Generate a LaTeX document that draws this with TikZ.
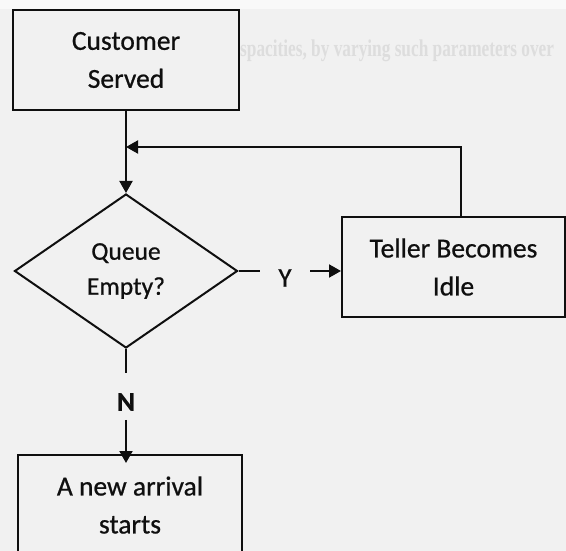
\documentclass[tikz,border=0pt]{standalone}
\usepackage{fontspec}
\setmainfont{Carlito}
\newfontfamily\inkfont{Carlito}[FakeBold=0.7]
\newfontfamily\ghostfont{Liberation Serif}
\usetikzlibrary{shapes.geometric,arrows.meta}
\definecolor{paper}{RGB}{241,241,241}
\definecolor{ink}{RGB}{15,15,15}
\definecolor{ghost}{RGB}{221,221,221}
\begin{document}
\begin{tikzpicture}[x=1pt,y=-1pt,
  box/.style={draw=ink, line width=2pt, minimum width=224pt, minimum height=100pt,
    inner sep=0pt, align=center, text=ink, font=\inkfont\fontsize{27.5}{38}\selectfont},
  decision/.style={diamond, draw=ink, line width=2pt, minimum width=223pt,
    minimum height=154pt, inner sep=0pt, align=center, text=ink,
    font=\inkfont\fontsize{25.5}{35}\selectfont},
  link/.style={draw=ink, line width=2pt},
  flow/.style={link, -{Triangle[width=13pt,length=12pt]}},
  tag/.style={inner sep=0pt, text=ink, font=\inkfont\fontsize{27}{30}\selectfont}]
\useasboundingbox (0,0) rectangle (566,551);
% paper
\fill[paper] (0,0) rectangle (566,551);
\fill[white!55!paper] (0,0) rectangle (566,9);
% faint print from the facing page
\node[ghost, anchor=west, inner sep=0pt, font=\ghostfont\bfseries\fontsize{24}{26}\selectfont]
  (ghostline) at (240,51) {\scalebox{0.72}[1]{spacities, by varying such parameters over}};

% steps
\node[box, minimum width=226pt] (cs) at (126,60) {Customer\\Served};
\node[decision] (q) at (126,271) {Queue\\Empty?};
\node[box, minimum width=223pt] (t) at (453.5,267) {Teller Becomes\\Idle};
\node[box] (a) at (130,505) {A new arrival\\starts};

% branch labels
\node[tag, minimum width=50pt] (y) at (285,278) {Y};
\node[tag] (n) at (126,402) {\bfseries N};
\coordinate (join) at (126,147);

% connectors
\draw[flow] (cs.south) -- (q.north);
\draw[link] (q.east) -- (q.east -| y.west);
\draw[flow] (y.east |- q.east) -- (t.west |- q.east);
\draw[link] (q.south) -- ([yshift=20pt]n.north);
\draw[flow] ([yshift=-9pt]n.south) -- ([yshift=-9pt]n.south |- a.north);
\draw[flow] ([xshift=7.5pt]t.north) |- (join);
\end{tikzpicture}
\end{document}
